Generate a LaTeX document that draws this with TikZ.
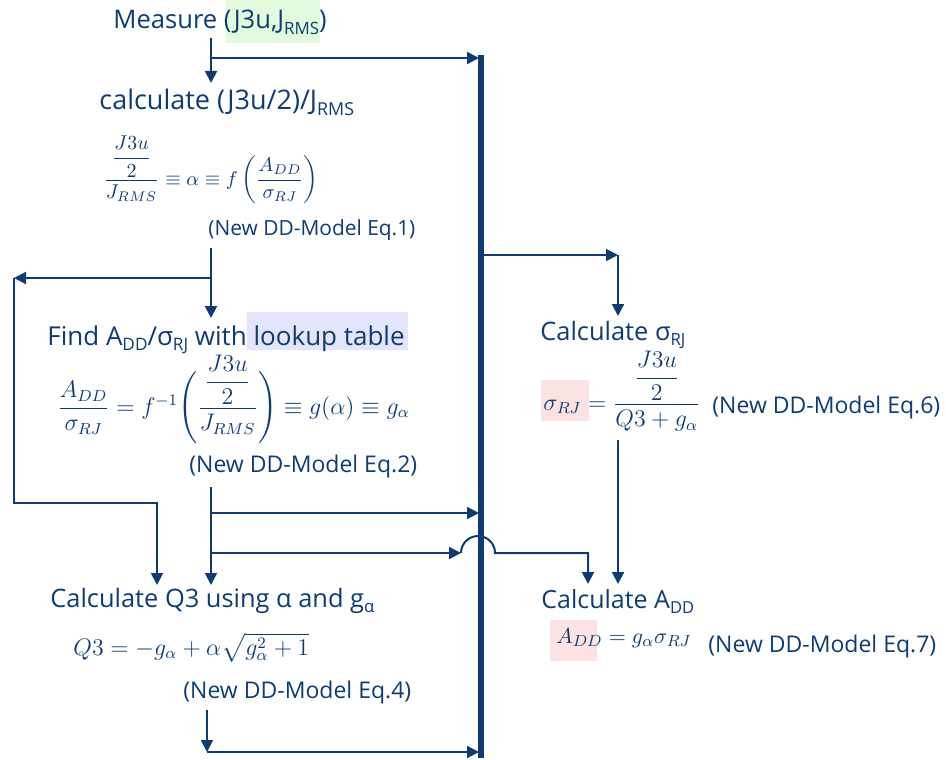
\documentclass[tikz,border=0pt]{standalone}
\usepackage{amsmath}
\usepackage[no-math]{fontspec}
\setmainfont{Open Sans}
\usetikzlibrary{arrows.meta}
\definecolor{ib}{RGB}{14,60,112}
\definecolor{hlgreen}{RGB}{226,250,222}
\definecolor{hlviolet}{RGB}{228,228,252}
\definecolor{hlpink}{RGB}{253,226,228}
\makeatletter
\newcommand\tsub[1]{\raisebox{-0.4ex}{\fontsize{\fpeval{0.66*\f@size}}{1}\selectfont #1}}
\makeatother
\tikzset{
  lbl/.style={text=ib, inner sep=0pt, anchor=base west, font=\fontsize{#1}{#1}\selectfont},
  lbl/.default=12,
  mth/.style={text=ib, inner sep=0pt, anchor=base west, font=\fontsize{#1}{#1}\selectfont},
  mth/.default=12,
  conn/.style={draw=ib, line width=1pt, -{Triangle[length=6pt,width=6pt]}},
  bar/.style={draw=ib, line width=2.6pt},
}
\begin{document}
\begin{tikzpicture}[x=0.5pt,y=-0.5pt]
\useasboundingbox (0,0) rectangle (946,759);
% highlights
\fill[hlgreen] (226,0) rectangle (320,43);
\fill[hlviolet] (247,312) rectangle (408,350);
\fill[hlpink] (541,380) rectangle (589,421);
\fill[hlpink] (550,620) rectangle (597,661);
% texts
\node[lbl=12.8] (meas) at (113,29) {Measure (J3u,J\tsub{RMS})};
\node[lbl=13.5] (calc) at (99,110) {calculate (J3u/2)/J\tsub{RMS}};
\node[mth=10] (eq1) at (103,185) {$\dfrac{\dfrac{J3u}{2}}{J_{RMS}} \equiv \alpha \equiv f\left(\dfrac{A_{DD}}{\sigma_{RJ}}\right)$};
\node[lbl=10.45] (eq1n) at (208,235) {(New DD-Model Eq.1)};
\node[lbl=13] (find) at (47,345) {Find A\tsub{DD}/σ\tsub{RJ} with lookup table};
\node[mth=11.7] (eq2) at (57,414) {$\dfrac{A_{DD}}{\sigma_{RJ}} = f^{-1}\Bigg(\dfrac{\dfrac{J3u}{2}}{J_{RMS}}\Bigg) \equiv g(\alpha) \equiv g_\alpha$};
\node[lbl=11.5] (eq2n) at (189,472) {(New DD-Model Eq.2)};
\node[lbl=12.7] (q3) at (50,607) {Calculate Q3 using α and g\tsub{α}};
\node[mth=12] (eq4) at (73,655) {$Q3 = -g_\alpha + \alpha\sqrt{g_\alpha^2+1}$};
\node[lbl=11.5] (eq4n) at (183,698) {(New DD-Model Eq.4)};
\node[lbl=12.7] (csig) at (540,340) {Calculate σ\tsub{RJ}};
\node[mth=11.8] (eq6) at (543,410) {$\sigma_{RJ} = \dfrac{\dfrac{J3u}{2}}{Q3+g_\alpha}$};
\node[lbl=11.5] (eq6n) at (712,413) {(New DD-Model Eq.6)};
\node[lbl=12.5] (cadd) at (541,608) {Calculate A\tsub{DD}};
\node[mth=11.4] (eq7) at (556,643) {$A_{DD} = g_\alpha\sigma_{RJ}$};
\node[lbl=11.5] (eq7n) at (708,652) {(New DD-Model Eq.7)};
% junction coordinates
\coordinate (bt) at (481,55);
\coordinate (bb) at (481,758);
\coordinate (m1) at (211,38);
\coordinate (m2) at (211,58);
\coordinate (m3) at (211,83);
\coordinate (m4) at (479,58);
\coordinate (c1) at (211,248);
\coordinate (c2) at (211,278);
\coordinate (c3) at (211,318);
\coordinate (l1) at (14,278);
\coordinate (l2) at (14,503);
\coordinate (l3) at (157,503);
\coordinate (l4) at (157,585);
\coordinate (f1) at (211,487);
\coordinate (f2) at (211,513);
\coordinate (f3) at (211,553);
\coordinate (f4) at (211,585);
\coordinate (f5) at (479,513);
\coordinate (f6) at (461,553);
\coordinate (f7) at (588,553);
\coordinate (f8) at (588,584);
\coordinate (q1) at (207,710);
\coordinate (q2) at (207,752);
\coordinate (q3e) at (479,752);
\coordinate (r1) at (483,255);
\coordinate (r2) at (618,255);
\coordinate (r3) at (618,316);
\coordinate (r4) at (618,440);
\coordinate (r5) at (618,584);
% connectors
\draw[bar] (bt) -- (bb);
\draw[conn] (m1) -- (m3);
\draw[conn] (m2) -- (m4);
\draw[conn] (c1) -- (c3);
\draw[conn] (c2) -- (l1);
\draw[conn] (l1) -- (l2) -- (l3) -- (l4);
\draw[conn] (f1) -- (f4);
\draw[conn] (f2) -- (f5);
\draw[conn] (f3) -- (f6);
\draw[conn] (f6) arc[start angle=180, end angle=360, radius=17] -- (f7) -- (f8);
\draw[conn] (q1) -- (q2);
\draw[conn] (q2) -- (q3e);
\draw[conn] (r1) -- (r2);
\draw[conn] (r2) -- (r3);
\draw[conn] (r4) -- (r5);
\end{tikzpicture}
\end{document}
